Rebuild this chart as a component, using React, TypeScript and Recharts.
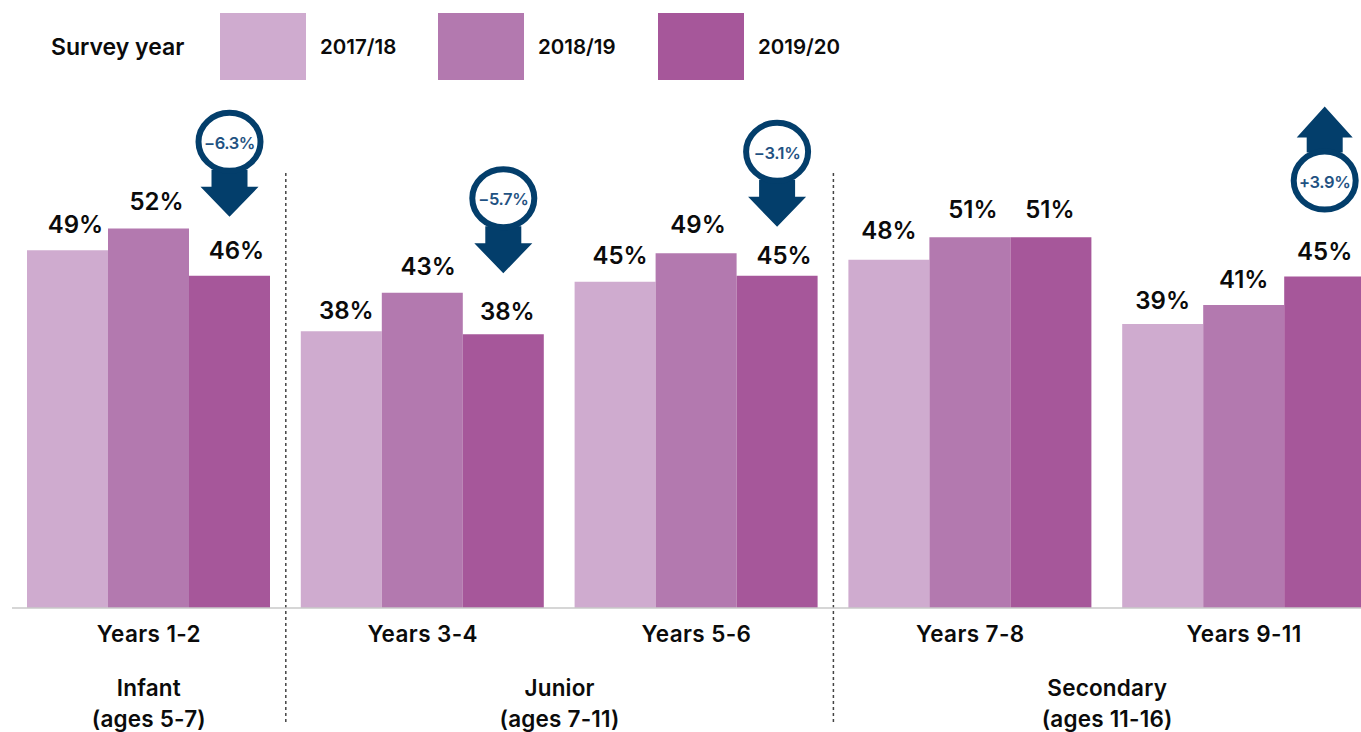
import React from 'react';
import { BarChart, Bar, XAxis, YAxis, Legend, LabelList, ReferenceLine } from 'recharts';

const FONT = 'Inter, "Noto Sans", sans-serif';
const NAVY = '#033E6B';

const categories = ['Years 1-2', 'Years 3-4', 'Years 5-6', 'Years 7-8', 'Years 9-11'];
const surveyYears = ['2017/18', '2018/19', '2019/20'];
const colors = ['#CFABCF', '#B379AF', '#A6579A'];

// bar heights
const values1718 = [49.0, 37.9, 44.7, 47.7, 38.9];
const values1819 = [52.0, 43.2, 48.6, 50.8, 41.5];
const values1920 = [45.5, 37.5, 45.5, 50.8, 45.4];

// printed labels are whole numbers and don't always round the same way as the bars
const labels1718 = ['49%', '38%', '45%', '48%', '39%'];
const labels1819 = ['52%', '43%', '49%', '51%', '41%'];
const labels1920 = ['46%', '38%', '45%', '51%', '45%'];

const changes = ['−6.3%', '−5.7%', '−3.1%', null, '+3.9%'];
const changeLift = [134, 136, 124, 0, 96];

const groupNames = ['Infant', 'Junior', 'Secondary'];
const groupAges = ['(ages 5-7)', '(ages 7-11)', '(ages 11-16)'];
const groupTicks = [0.5, 2, 4];
const dividers = [1, 3];

const labelShift = [
  [8, 5, 5, 0, 0],
  [8, 6, 2, 3, 0],
  [7, 4, 7, -1, 0],
];
const labelLift = [
  [26, 21, 26, 29, 24],
  [27, 26, 29, 28, 26],
  [25, 23, 20, 28, 25],
];

const data = categories.map((name, i) => ({
  name,
  slot: i + 0.5,
  y1718: values1718[i],
  y1819: values1819[i],
  y1920: values1920[i],
}));

const seriesKeys = ['y1718', 'y1819', 'y1920'];
const seriesLabels = [labels1718, labels1819, labels1920];

function Callout({ cx, cy, text, up }: { cx: number; cy: number; text: string; up: boolean }) {
  const d = up ? -1 : 1;
  const shaft = 18;
  const head = up ? 28 : 29;
  const neck = cy + d * 28;
  const base = cy + d * (up ? 43 : 45);
  const tip = cy + d * (up ? 74 : 75);
  const points = [
    [cx - shaft, neck],
    [cx - shaft, base],
    [cx - head, base],
    [cx, tip],
    [cx + head, base],
    [cx + shaft, base],
    [cx + shaft, neck],
  ]
    .map((p) => p.join(','))
    .join(' ');
  return (
    <g>
      <polygon points={points} fill={NAVY} />
      <ellipse cx={cx} cy={cy} rx={31} ry={29} fill="#fff" stroke={NAVY} strokeWidth={6} />
      <text
        x={cx}
        y={cy + 1}
        textAnchor="middle"
        dominantBaseline="central"
        fontFamily={FONT}
        fontSize={16.5}
        fontWeight={600}
        letterSpacing={-0.4}
        fill="#1F5282"
      >
        {text}
      </text>
    </g>
  );
}

function barLabel(series: number) {
  return (props: any) => {
    const { x, y, width, index } = props;
    const cx = x + width / 2;
    const change = series === 2 ? changes[index] : null;
    return (
      <g>
        <text
          x={cx + labelShift[series][index]}
          y={y - labelLift[series][index]}
          textAnchor="middle"
          dominantBaseline="central"
          fontFamily={FONT}
          fontSize={24}
          fontWeight={600}
          fill="#0b0b0b"
        >
          {seriesLabels[series][index]}
        </text>
        {change && (
          <Callout cx={cx} cy={y - changeLift[index]} text={change} up={change.startsWith('+')} />
        )}
      </g>
    );
  };
}

function CategoryTick({ x, y, payload }: any) {
  return (
    <text
      x={x}
      y={y + 17}
      textAnchor="middle"
      dominantBaseline="central"
      fontFamily={FONT}
      fontSize={22.5}
      fontWeight={600}
      letterSpacing={0.4}
      fill="#0b0b0b"
    >
      {payload.value}
    </text>
  );
}

function GroupTick({ x, y, index }: any) {
  const shared = {
    x,
    textAnchor: 'middle' as const,
    dominantBaseline: 'central' as const,
    fontFamily: FONT,
    fontSize: 22.5,
    fontWeight: 600,
    letterSpacing: 0.2,
    fill: '#0b0b0b',
  };
  return (
    <g>
      <text {...shared} y={y + 21}>
        {groupNames[index]}
      </text>
      <text {...shared} y={y + 52}>
        {groupAges[index]}
      </text>
    </g>
  );
}

const swatchLeft = [220, 438, 658];

function SurveyLegend() {
  return (
    <div style={{ position: 'relative', height: 67, width: 900, fontFamily: FONT, color: '#0b0b0b' }}>
      <span style={{ position: 'absolute', left: 51, top: 21, fontSize: 23, lineHeight: '26px', fontWeight: 600 }}>
        Survey year
      </span>
      {surveyYears.map((year, i) => (
        <React.Fragment key={year}>
          <div
            style={{ position: 'absolute', left: swatchLeft[i], top: 0, width: 86, height: 67, background: colors[i] }}
          />
          <span
            style={{
              position: 'absolute',
              left: swatchLeft[i] + 100,
              top: 21,
              fontSize: 20.5,
              lineHeight: '26px',
              fontWeight: 600,
            }}
          >
            {year}
          </span>
        </React.Fragment>
      ))}
    </div>
  );
}

export default function App() {
  return (
    <div style={{ position: 'absolute', left: 0, top: 0, width: 1361, height: 732, overflow: 'hidden', background: '#fff' }}>
      <BarChart
        width={1381}
        height={732}
        data={data}
        margin={{ top: 103, right: 0, bottom: 0, left: 12 }}
        barCategoryGap={15}
        barGap={0}
      >
        <XAxis
          dataKey="name"
          height={50}
          interval={0}
          tickLine={false}
          axisLine={{ stroke: '#c8c8c8', strokeWidth: 1.5 }}
          tick={<CategoryTick />}
        />
        <XAxis
          xAxisId="groups"
          dataKey="slot"
          type="number"
          domain={[0, 5]}
          ticks={groupTicks}
          interval={0}
          height={74}
          tickLine={false}
          axisLine={false}
          tick={<GroupTick />}
        />
        <YAxis hide domain={[0, 60]} />
        <Legend
          verticalAlign="top"
          height={67}
          wrapperStyle={{ top: 13, left: 0, width: 900 }}
          content={<SurveyLegend />}
        />
        {seriesKeys.map((key, i) => (
          <Bar key={key} dataKey={key} name={surveyYears[i]} fill={colors[i]} isAnimationActive={false}>
            <LabelList dataKey={key} content={barLabel(i)} />
          </Bar>
        ))}
        {dividers.map((d) => (
          <ReferenceLine
            key={d}
            xAxisId="groups"
            ifOverflow="visible"
            segment={[
              { x: d, y: -15.6 },
              { x: d, y: 59.8 },
            ]}
            stroke="#444"
            strokeWidth={1.5}
            strokeDasharray="3 3"
          />
        ))}
      </BarChart>
    </div>
  );
}
